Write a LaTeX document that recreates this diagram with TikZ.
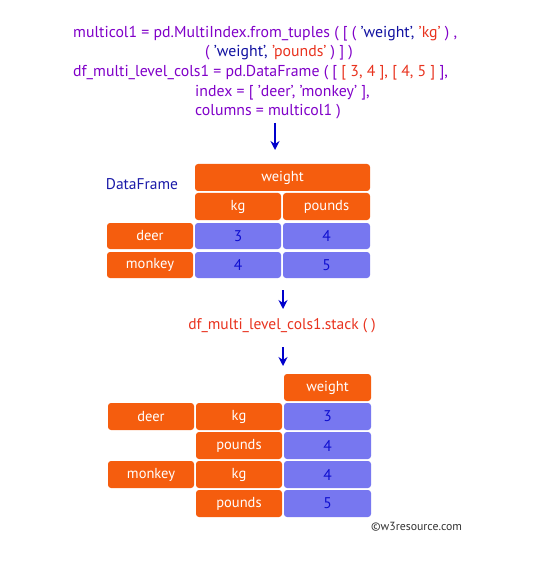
\documentclass[tikz,border=0pt]{standalone}
\usepackage{fontspec}
\setmainfont{PT Sans}
\usetikzlibrary{arrows.meta}
\definecolor{boxorange}{HTML}{F55D0E}
\definecolor{cellblue}{HTML}{7777F0}
\definecolor{codepurple}{HTML}{8000C8}
\definecolor{codeblue}{HTML}{1010A0}
\definecolor{codered}{HTML}{E8321E}
\definecolor{numblue}{HTML}{1010D0}
\definecolor{dfblue}{HTML}{1A1AA8}
\tikzset{
  hdr/.style={fill=boxorange, rounded corners=3pt, text=white, minimum height=27pt, inner sep=0pt, font=\fontsize{14.5}{16}\selectfont},
  cell/.style={fill=cellblue, rounded corners=3pt, text=numblue, minimum width=87pt, minimum height=27pt, inner sep=0pt, font=\fontsize{15.5}{17}\selectfont},
  code/.style={anchor=base west, inner sep=0pt, text=codepurple, font=\fontsize{15.8}{18}\selectfont},
  flow/.style={draw=blue!80!black, line width=2pt, -{Stealth[length=9pt,width=9pt]}}
}
\begin{document}
\begin{tikzpicture}[x=1pt,y=-1pt]
\useasboundingbox (0,0) rectangle (546,561);
% code lines
\node[code] (l1) at (73,38) {multicol1 = pd.MultiIndex.from\_tuples ( [ ( \textcolor{codeblue}{'weight',} \textcolor{codered}{'kg'} ) ,};
\node[code] (l2) at (205,57) {( \textcolor{codeblue}{'weight',} \textcolor{codered}{'pounds'} ) ] )};
\node[code] (l3) at (73,77) {df\_multi\_level\_cols1 = pd.DataFrame ( [ \textcolor{codered}{[ 3, 4 ], [ 4, 5 ]} ],};
\node[code] (l4) at (195,97) {index = [ 'deer', 'monkey' ],};
\node[code] (l5) at (195,116) {columns = multicol1 )};
% arrow 1
\coordinate (a1s) at (275,123);
\coordinate (a1e) at (275,150);
\draw[flow] (a1s) -- (a1e);
% table 1
\node[text=dfblue, font=\fontsize{15.5}{17}\selectfont] (df) at (142,184) {DataFrame};
\node[hdr, minimum width=175pt] (w1) at (282.5,177.5) {weight};
\node[hdr, minimum width=86pt] (kg1) at (238,206.5) {kg};
\node[hdr, minimum width=87pt] (lb1) at (326.5,206.5) {pounds};
\node[hdr, minimum width=86pt, minimum height=26pt] (deer1) at (150,236) {deer};
\node[cell, minimum width=86pt, minimum height=26pt] (c11) at (238,236) {3};
\node[cell, minimum height=26pt] (c12) at (326.5,236) {4};
\node[hdr, minimum width=86pt, minimum height=26pt] (mk1) at (150,265) {monkey};
\node[cell, minimum width=86pt, minimum height=26pt] (c21) at (238,265) {4};
\node[cell, minimum height=26pt] (c22) at (326.5,265) {5};
% arrow 2, stack text, arrow 3
\coordinate (a2s) at (283,290);
\coordinate (a2e) at (283,309);
\draw[flow] (a2s) -- (a2e);
\node[text=codered, font=\fontsize{15.5}{17}\selectfont] (stk) at (282,326) {df\_multi\_level\_cols1.stack ( )};
\coordinate (a3s) at (283,347);
\coordinate (a3e) at (283,366);
\draw[flow] (a3s) -- (a3e);
% table 2
\node[hdr, minimum width=87pt] (w2) at (327.5,387.5) {weight};
\node[hdr, minimum width=86pt] (deer2) at (151,416.5) {deer};
\node[hdr, minimum width=86pt] (kg2a) at (239,416.5) {kg};
\node[cell] (s1) at (327.5,416.5) {3};
\node[hdr, minimum width=86pt] (lb2a) at (239,445.5) {pounds};
\node[cell] (s2) at (327.5,445.5) {4};
\node[hdr, minimum width=86pt] (mk2) at (151,474.5) {monkey};
\node[hdr, minimum width=86pt] (kg2b) at (239,474.5) {kg};
\node[cell] (s3) at (327.5,474.5) {4};
\node[hdr, minimum width=86pt] (lb2b) at (239,503.5) {pounds};
\node[cell] (s4) at (327.5,503.5) {5};
% copyright
\node[text=black!80, font=\fontsize{11.8}{13}\selectfont, anchor=west, inner sep=0pt] (cp) at (371,527) {©w3resource.com};
\end{tikzpicture}
\end{document}
